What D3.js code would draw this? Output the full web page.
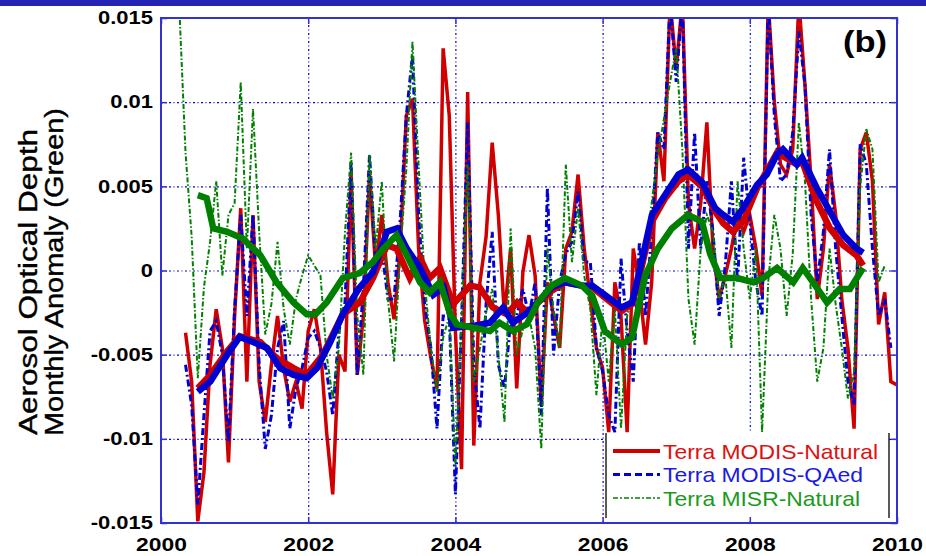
<!DOCTYPE html>
<html>
<head>
<meta charset="utf-8">
<script src="https://cdn.jsdelivr.net/npm/d3@7"></script>
<style>
  body { margin: 0; background: #fff; }
  svg { display: block; font-family: "Liberation Sans", Arial, sans-serif; }
</style>
</head>
<body>
<svg id="chart" width="926" height="556"></svg>
<script>
// monthly anomalies, units of 0.001, index 0 = startMonth (months after Jan 2000)
const modisStart = 4;
const misrStart = 3;

const modisNatural = [
  -3.7, -6.6, -14.9, -12.0, -5.6, -2.3, -4.6, -11.4, -2.7, 3.7, -6.6, 3.3, -6.6, -9.0, -5.6, -2.7,
  -5.8, -7.8, -6.6, -8.2, -3.6, -2.3, -4.6, -9.6, -13.3, -5.0, -6.0, 5.7, -6.2, -2.7, 5.7, 0.1,
  3.3, -0.7, -2.9, 1.3, 9.2, 10.2, 1.3, -3.0, -5.2, -7.0, 13.2, 9.2, -3.6, -11.8, 10.6, -10.4,
  -0.7, 2.0, 7.6, 3.3, -2.7, 1.3, -7.0, -0.1, 2.1, -0.3, -8.0, -0.7, -2.7, -4.6, 1.3, 2.3,
  5.7, 1.3, -1.7, -4.6, -5.8, -9.6, -0.7, -2.7, -9.6, 1.3, -1.0, -4.4, -0.7, 8.2, 5.3, 16,
  12, 16, 4.0, 1.3, 4.0, 8.8, 1.3, -1.7, -0.3, 1.3, 3.3, 2.3, 3.3, 1.3, -1.5, 16,
  10, 6.3, 5.7, 7.2, 16, 11, 5.3, -1.7, 1.3, 6.3, 3.3, -1.7, -4.6, -9.4, 7.2, 8.2,
  5.3, -3.2, -1.3, -6.6, -6.8
];

const modisQAed = [
  -5.6, -8.0, -13.9, -8.6, -3.6, -3.0, -5.0, -10.2, -2.3, 3.3, -2.7, 3.3, -5.6, -10.6, -8.6, -4.6,
  -3.0, -9.4, -7.0, -5.8, -4.0, -3.6, -4.6, -6.0, -8.6, -3.6, -1.9, 6.5, -6.2, -1.0, 6.9, 0.5,
  1.3, -1.7, -1.7, 3.0, 9.2, 12.8, 3.3, -2.0, -4.6, -9.4, -2.7, -2.7, -13.3, -3.0, 8.8, -5.6,
  -9.4, -2.0, 2.3, -5.6, -7.0, -3.0, -2.7, -1.1, -2.7, -0.7, -8.6, 4.9, -5.0, -0.7, 1.0, 1.7,
  4.7, 0.5, 0.5, -4.6, -6.0, -8.6, -9.6, 0.7, -3.6, -6.6, 1.7, -2.7, 2.3, 8.2, 7.2, 16,
  11.2, 16, 1.3, 8.2, 1.3, 5.3, 2.3, -2.7, 0.3, 5.3, -0.7, 6.7, 2.9, -0.7, -2.7, 16,
  9.2, 5.3, 5.7, 8.2, 14.2, 11, 3.3, -0.7, 2.3, 7.2, 1.3, -2.7, -6.6, -8.0, 7.5, 6.3,
  1.3, -2.7, -1.7, -4.6
];

const misrNatural = [
  15.5, 7.0, 2.0, -6.4, -1.0, 1.7, 5.3, -0.3, 3.3, 4.0, 11.2, 1.3, 9.6, 2.3, -3.8, -2.0,
  1.7, -2.3, -4.4, -1.7, -0.3, 0.9, 0.3, -0.3, -5.0, -7.6, -4.6, 2.3, 7.0, -2.7, -6.2, 6.9,
  1.3, 5.3, -1.7, -5.4, 1.0, 6.0, 13.6, 6.3, -0.7, -4.6, -7.2, -4.0, -2.7, -11.6, -3.0, 6.3,
  -6.6, -4.6, -2.5, -1.1, -5.0, -9.0, 2.5, -5.0, -3.5, -2.7, -4.6, -10.6, 1.3, -2.3, -4.6, 6.3,
  0.5, 3.7, -0.3, -2.3, -7.4, -2.7, -6.6, -2.3, -9.4, -2.7, -1.1, -2.3, 1.3, 4.0, 6.9, 9.0,
  11.2, 13.2, 7.2, -1.7, -4.4, 1.3, 3.3, 2.3, -1.7, -0.3, -4.6, 5.3, 1.3, -1.7, 1.3, -9.6,
  -0.7, 3.3, 1.3, -2.7, 1.0, 8.8, 5.3, -1.7, -6.6, -4.6, 1.3, -2.0, -4.6, -7.6, -6.0, 5.0,
  8.4, 7.2, -0.7, 0.3
];

// 12-month running means (decimal year, units of 0.001)
const redSmoothYears = [2000.5, 2000.67, 2000.9, 2001.07, 2001.35, 2001.57, 2001.8, 2001.98, 2002.2, 2002.47,
  2002.7, 2002.88, 2003.07, 2003.2, 2003.38, 2003.52, 2003.65, 2003.79, 2003.97, 2004.2, 2004.33, 2004.51,
  2004.7, 2004.84, 2004.98, 2005.12, 2005.31, 2005.49, 2005.72, 2005.86, 2006.03, 2006.26, 2006.4, 2006.53,
  2006.67, 2006.85, 2007.03, 2007.16, 2007.35, 2007.53, 2007.64, 2007.77, 2007.91, 2008.1, 2008.37, 2008.64,
  2008.71, 2008.91, 2009.09, 2009.27, 2009.45, 2009.54];
const redSmoothValues = [-7.0, -6.2, -4.8, -3.9, -4.25, -5.2, -5.8, -6.2, -5.0, -2.6,
  -1.9, -0.45, 1.5, 1.3, -0.45, 0.75, -0.45, 0.15, -2.0, -0.9, -1.0, -2.2,
  -2.6, -1.9, -2.5, -1.9, -1.2, -0.7, -0.9, -1.0, -1.6, -2.4, -2.0, 0.2,
  2.9, 4.3, 5.3, 5.7, 5.0, 3.5, 2.8, 2.3, 2.9, 4.9, 7.0, 6.3,
  6.5, 4.1, 2.5, 1.5, 0.9, 0.3];

const blueSmoothYears = [2000.5, 2000.67, 2000.9, 2001.07, 2001.25, 2001.44, 2001.62, 2001.8, 2001.98, 2002.12,
  2002.3, 2002.47, 2002.7, 2002.88, 2003.07, 2003.2, 2003.34, 2003.52, 2003.7, 2003.84, 2003.97, 2004.24,
  2004.47, 2004.65, 2004.78, 2004.95, 2005.12, 2005.31, 2005.49, 2005.72, 2005.86, 2006.03, 2006.26, 2006.4,
  2006.53, 2006.67, 2006.85, 2007.03, 2007.16, 2007.35, 2007.53, 2007.64, 2007.77, 2007.91, 2008.1, 2008.23,
  2008.37, 2008.45, 2008.64, 2008.71, 2008.91, 2009.09, 2009.27, 2009.45, 2009.54];
const blueSmoothValues = [-7.2, -6.6, -5.0, -3.95, -4.25, -4.6, -5.8, -6.2, -6.4, -5.8,
  -4.25, -2.6, -1.0, -0.1, 2.3, 2.5, 1.3, 0.15, -1.45, -1.0, -3.4, -3.3,
  -3.1, -2.2, -3.1, -2.6, -1.9, -1.0, -0.7, -0.9, -0.9, -1.45, -2.2, -1.9,
  0.5, 3.3, 4.5, 5.7, 6.0, 5.25, 3.7, 3.3, 2.9, 3.7, 5.1, 5.7,
  6.9, 7.2, 6.3, 6.7, 4.9, 3.5, 2.1, 1.3, 1.05];

const greenSmoothYears = [2000.5, 2000.62, 2000.71, 2000.9, 2001.11, 2001.35, 2001.57, 2001.8, 2001.98, 2002.1,
  2002.25, 2002.47, 2002.7, 2002.88, 2003.02, 2003.2, 2003.34, 2003.52, 2003.65, 2003.79, 2003.93, 2004.02,
  2004.24, 2004.47, 2004.6, 2004.78, 2004.97, 2005.12, 2005.31, 2005.49, 2005.72, 2005.86, 2006.03, 2006.26,
  2006.4, 2006.58, 2006.75, 2006.94, 2007.16, 2007.35, 2007.46, 2007.6, 2007.83, 2008.05, 2008.18, 2008.37,
  2008.59, 2008.72, 2008.86, 2009.05, 2009.22, 2009.36, 2009.54];
const greenSmoothValues = [4.48, 4.3, 2.5, 2.3, 1.9, 0.9, -0.7, -1.9, -2.6, -2.6,
  -1.9, -0.45, -0.15, 0.5, 1.3, 2.1, 0.9, -0.7, -1.3, -0.7, -2.6, -3.2,
  -3.4, -3.6, -3.1, -3.6, -3.2, -1.9, -0.9, -0.45, -0.9, -1.5, -3.6, -4.4,
  -4.0, -0.3, 1.3, 2.5, 3.3, 2.9, 1.0, -0.45, -0.45, -0.7, -0.45, 0.15,
  -0.7, 0.15, -0.7, -1.9, -1.1, -1.1, 0.15];

const xTicks = [2000, 2002, 2004, 2006, 2008, 2010];
const yTicks = [-0.015, -0.01, -0.005, 0, 0.005, 0.01, 0.015];
const yTickLabels = ['-0.015', '-0.01', '-0.005', '0', '0.005', '0.01', '0.015'];
const legendLabels = ['Terra MODIS-Natural', 'Terra MODIS-QAed', 'Terra MISR-Natural'];

(() => {

  // chart parameters
  const plot_left = 161, plot_right = 897, plot_top = 18, plot_bottom = 523;
  const red = '#d00000', blue = '#0000d0', green = '#008000';

  let svg = d3.select('#chart');

  let x_scale = d3.scaleLinear().domain([2000, 2010]).range([plot_left, plot_right]);
  let y_scale = d3.scaleLinear().domain([-0.015, 0.015]).range([plot_bottom, plot_top]);

  // stretch text horizontally like the original bitmap
  function stretch(sel, k) {
    sel.each(function () {
      let w = this.getComputedTextLength();
      d3.select(this).attr('textLength', w * k).attr('lengthAdjust', 'spacingAndGlyphs');
    });
  }

  // top banner
  svg.append('rect').attr('x', 0).attr('y', 0).attr('width', 926).attr('height', 6).attr('fill', '#2424b4');

  // grid
  svg.append('g')
    .attr('transform', `translate(0, ${plot_bottom})`)
    .call(d3.axisBottom(x_scale).tickValues(xTicks.slice(1, -1)).tickSize(-(plot_bottom - plot_top)).tickFormat(''))
    .call(g => g.select('.domain').remove())
    .selectAll('line')
    .attr('stroke', '#0000e0').attr('stroke-width', 1.2).attr('stroke-dasharray', '2,2.5,1,2.5');

  svg.append('g')
    .attr('transform', `translate(${plot_left}, 0)`)
    .call(d3.axisLeft(y_scale).tickValues(yTicks).tickSize(-(plot_right - plot_left)).tickFormat(''))
    .call(g => g.select('.domain').remove())
    .selectAll('line')
    .attr('stroke', '#0000e0').attr('stroke-width', 1.2).attr('stroke-dasharray', '2,2.5,1,2.5');

  // clip
  svg.append('clipPath').attr('id', 'plot-clip')
    .append('rect').attr('x', plot_left).attr('y', plot_top)
    .attr('width', plot_right - plot_left).attr('height', plot_bottom - plot_top);

  let plot = svg.append('g').attr('clip-path', 'url(#plot-clip)');

  let monthly = (vals, start) => vals.map((v, i) => ({ t: 2000 + (start + i) / 12, v: v / 1000 }));
  let smooth = (years, vals) => years.map((t, i) => ({ t: t, v: vals[i] / 1000 }));

  let line = d3.line().x(d => x_scale(d.t)).y(d => y_scale(d.v));

  plot.append('path').datum(monthly(modisNatural, modisStart))
    .attr('d', line).attr('fill', 'none').attr('stroke', red).attr('stroke-width', 3.5);
  plot.append('path').datum(monthly(modisQAed, modisStart))
    .attr('d', line).attr('fill', 'none').attr('stroke', blue).attr('stroke-width', 3)
    .attr('stroke-dasharray', '7,3,2,3');
  plot.append('path').datum(monthly(misrNatural, misrStart))
    .attr('d', line).attr('fill', 'none').attr('stroke', green).attr('stroke-width', 2)
    .attr('stroke-dasharray', '5,2,1.5,2');

  plot.append('path').datum(smooth(redSmoothYears, redSmoothValues))
    .attr('d', line).attr('fill', 'none').attr('stroke', red).attr('stroke-width', 6.5);
  plot.append('path').datum(smooth(blueSmoothYears, blueSmoothValues))
    .attr('d', line).attr('fill', 'none').attr('stroke', blue).attr('stroke-width', 6.5);
  plot.append('path').datum(smooth(greenSmoothYears, greenSmoothValues))
    .attr('d', line).attr('fill', 'none').attr('stroke', green).attr('stroke-width', 6.5);

  // legend
  let legend = svg.append('g');
  legend.append('rect').attr('x', 606).attr('y', 433).attr('width', 283).attr('height', 88).attr('fill', '#fff');
  legend.append('line').attr('x1', 606).attr('x2', 606).attr('y1', 433).attr('y2', 518).attr('stroke', '#222').attr('stroke-width', 1.5);
  legend.append('line').attr('x1', 889).attr('x2', 889).attr('y1', 433).attr('y2', 518).attr('stroke', '#222').attr('stroke-width', 1.5);

  const legendStyles = [
    { color: red, text: '#e01010', width: 4, dash: null, len: 215 },
    { color: blue, text: '#1a1ae6', width: 3, dash: '7,4', len: 200 },
    { color: green, text: '#1a9a1a', width: 1.5, dash: '5,2,2,2', len: 197 }
  ];
  legendLabels.forEach((label, i) => {
    let st = legendStyles[i];
    let yy = 451 + i * 23.5;
    legend.append('line').attr('x1', 613).attr('x2', 660).attr('y1', yy).attr('y2', yy)
      .attr('stroke', st.color).attr('stroke-width', st.width).attr('stroke-dasharray', st.dash);
    legend.append('text').attr('x', 663).attr('y', yy + 7.5).text(label)
      .attr('fill', st.text).style('font-size', '21px')
      .attr('textLength', st.len).attr('lengthAdjust', 'spacingAndGlyphs');
  });

  // frame + inward ticks on all sides
  let tickStyle = g => {
    g.select('.domain').remove();
    g.selectAll('line').attr('stroke', '#3232d2').attr('stroke-width', 1.5);
  };

  let xAxis = svg.append('g')
    .attr('transform', `translate(0, ${plot_bottom})`)
    .call(d3.axisBottom(x_scale).tickValues(xTicks).tickSize(-6).tickPadding(15).tickFormat(d3.format('d')))
    .call(tickStyle);
  xAxis.selectAll('text').style('font-size', '18px').style('font-weight', 'bold').attr('fill', '#000');
  stretch(xAxis.selectAll('text'), 1.27);

  let yAxis = svg.append('g')
    .attr('transform', `translate(${plot_left}, 0)`)
    .call(d3.axisLeft(y_scale).tickValues(yTicks).tickSize(-6).tickPadding(8).tickFormat((d, i) => yTickLabels[i]))
    .call(tickStyle);
  yAxis.selectAll('text').style('font-size', '18px').style('font-weight', 'bold').attr('fill', '#000');
  stretch(yAxis.selectAll('text'), 1.22);

  svg.append('g').attr('transform', `translate(0, ${plot_top})`)
    .call(d3.axisTop(x_scale).tickValues(xTicks).tickSize(-6).tickFormat(''))
    .call(tickStyle);
  svg.append('g').attr('transform', `translate(${plot_right}, 0)`)
    .call(d3.axisRight(y_scale).tickValues(yTicks).tickSize(-6).tickFormat(''))
    .call(tickStyle);

  svg.append('rect').attr('x', plot_left).attr('y', plot_top)
    .attr('width', plot_right - plot_left).attr('height', plot_bottom - plot_top)
    .attr('fill', 'none').attr('stroke', '#3232d2').attr('stroke-width', 2);

  // y axis title
  svg.append('text')
    .attr('transform', 'translate(37, 282) rotate(-90)')
    .attr('text-anchor', 'middle').style('font-size', '26px').attr('fill', '#000')
    .attr('stroke', '#000').attr('stroke-width', 0.4)
    .attr('textLength', 306).attr('lengthAdjust', 'spacingAndGlyphs')
    .text('Aerosol Optical Depth');
  svg.append('text')
    .attr('transform', 'translate(63, 272) rotate(-90)')
    .attr('text-anchor', 'middle').style('font-size', '26px').attr('fill', '#000')
    .attr('stroke', '#000').attr('stroke-width', 0.4)
    .attr('textLength', 328).attr('lengthAdjust', 'spacingAndGlyphs')
    .text('Monthly Anomaly (Green)');

  // panel tag
  svg.append('text').attr('x', 843).attr('y', 52).text('(b)')
    .style('font-size', '29px').style('font-weight', 'bold').attr('fill', '#000')
    .attr('textLength', 44).attr('lengthAdjust', 'spacingAndGlyphs');

})();
</script>
</body>
</html>
